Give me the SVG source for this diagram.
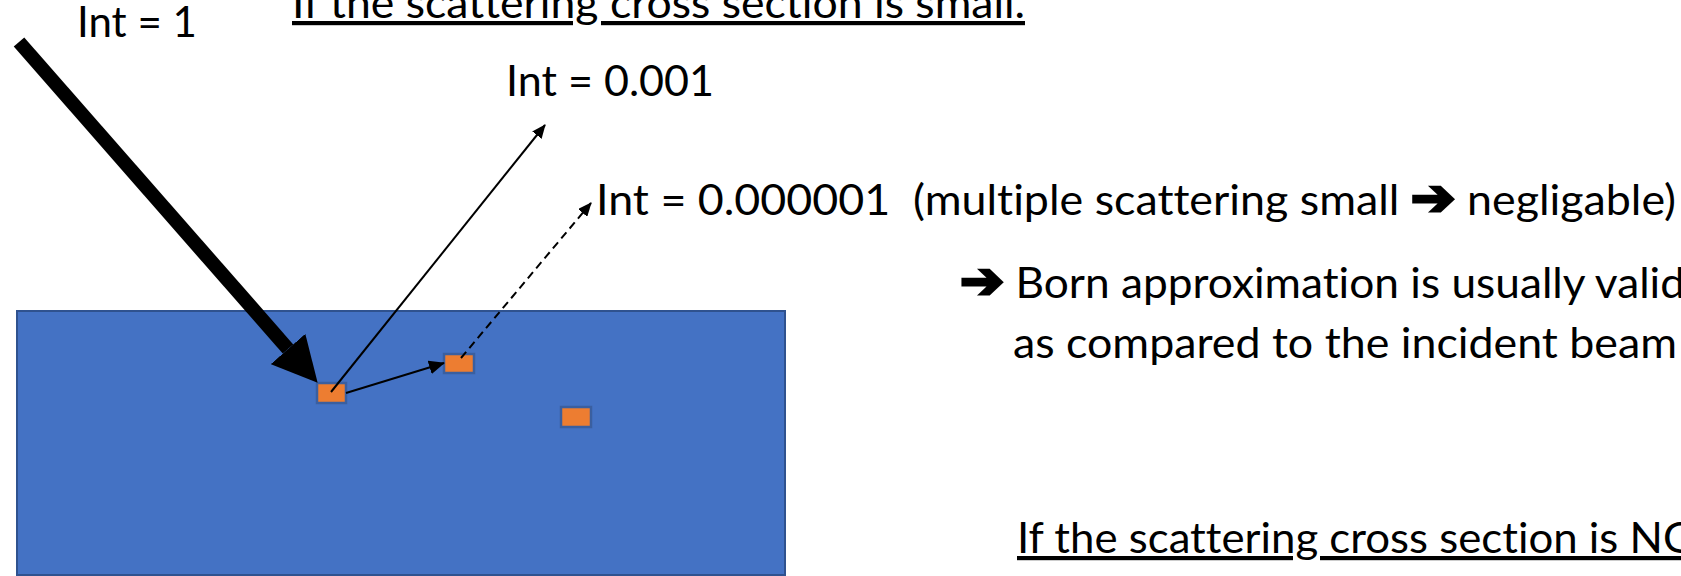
<svg xmlns="http://www.w3.org/2000/svg" width="1681" height="576" viewBox="0 0 1681 576">
  <style>
    .lbl { font-family: Lato, "Open Sans", "DejaVu Sans", sans-serif; font-size: 42px; fill: #000; font-variant-ligatures: none; font-feature-settings: "liga" 0, "clig" 0; }
    .ul { text-decoration: underline; }
    .arr { font-family: "DejaVu Sans", sans-serif; font-weight: bold; font-size: 50px; stroke: #000; stroke-width: 3; stroke-linejoin: miter; }
    .sample { fill: #4472C4; stroke: #2F528F; stroke-width: 2; }
    .atom { fill: #ED7D31; stroke: #3A5FA0; stroke-width: 2.5; }
    .thin { stroke: #000; stroke-width: 2; fill: none; }
  </style>
  <defs>
    <marker id="bigHead" markerUnits="userSpaceOnUse" viewBox="0 0 45 46" refX="0" refY="23" markerWidth="45" markerHeight="46" orient="auto">
      <path d="M0,0 L45,23 L0,46 z" fill="#000"/>
    </marker>
    <marker id="smallHead" markerUnits="userSpaceOnUse" viewBox="0 0 14 12" refX="13" refY="6" markerWidth="14" markerHeight="12" orient="auto">
      <path d="M0,0 L14,6 L0,12 z" fill="#000"/>
    </marker>
    <marker id="midHead" markerUnits="userSpaceOnUse" viewBox="0 0 16 14" refX="15" refY="7" markerWidth="16" markerHeight="14" orient="auto">
      <path d="M0,0 L16,7 L0,14 z" fill="#000"/>
    </marker>
  </defs>

  <g id="sample">
    <rect class="sample" x="17" y="311" width="768" height="264"/>
  </g>
  <g id="scatterer-1"><rect class="atom" x="317" y="383" width="29" height="20"/></g>
  <g id="scatterer-2"><rect class="atom" x="444" y="354" width="30" height="19"/></g>
  <g id="scatterer-3"><rect class="atom" x="561" y="407" width="30" height="20"/></g>

  <g id="connectors">
    <line x1="19" y1="42" x2="288" y2="349" stroke="#000" stroke-width="14" marker-end="url(#bigHead)"/>
    <line class="thin" x1="331" y1="392" x2="545" y2="125" marker-end="url(#smallHead)"/>
    <line class="thin" x1="346" y1="393" x2="444" y2="363" stroke-width="2.5" marker-end="url(#midHead)"/>
    <line class="thin" x1="461" y1="358" x2="591" y2="203" stroke-dasharray="8 5" marker-end="url(#smallHead)"/>
  </g>

  <g id="label-int1">
    <text class="lbl" x="77" y="37" textLength="120" lengthAdjust="spacingAndGlyphs">Int = 1</text>
  </g>
  <g id="label-title-small">
    <text class="lbl ul" x="292" y="18" textLength="733" lengthAdjust="spacingAndGlyphs">If the scattering cross section is small.</text>
  </g>
  <g id="label-int-0001">
    <text class="lbl" x="506" y="96" textLength="208" lengthAdjust="spacingAndGlyphs">Int = 0.001</text>
  </g>
  <g id="label-int-multiple">
    <text class="lbl" x="596" y="215" textLength="1080" lengthAdjust="spacingAndGlyphs" xml:space="preserve">Int = 0.000001  (multiple scattering small <tspan class="arr">➔</tspan> negligable)</text>
  </g>
  <g id="label-born">
    <text class="lbl" x="960" y="298" textLength="725" lengthAdjust="spacingAndGlyphs"><tspan class="arr">➔</tspan> Born approximation is usually valid</text>
    <text class="lbl" x="1013" y="358" textLength="664" lengthAdjust="spacingAndGlyphs">as compared to the incident beam</text>
  </g>
  <g id="label-title-not-small">
    <text class="lbl ul" x="1017" y="553" textLength="681" lengthAdjust="spacingAndGlyphs">If the scattering cross section is NO</text>
  </g>
</svg>
